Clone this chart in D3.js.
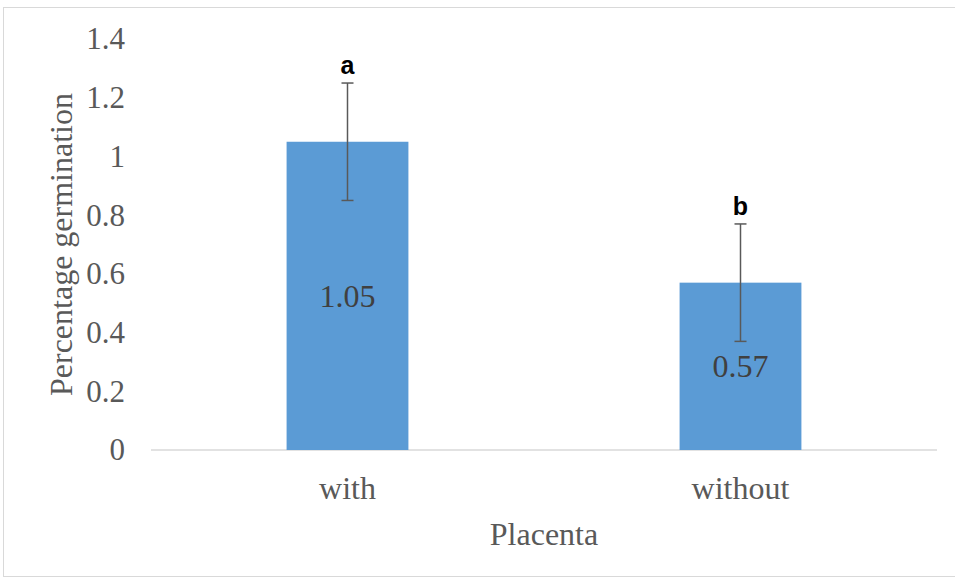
<!DOCTYPE html>
<html><head><meta charset="utf-8">
<script src="https://cdn.jsdelivr.net/npm/d3@7"></script>
<style>body{margin:0;background:#fff;}</style>
</head><body>
<svg id="c" width="955" height="579"></svg>
<script>
const categories = ["with", "without"];
const values = [1.05, 0.57];
const errors = [0.2, 0.2];
const letters = ["a", "b"];
const yTicks = [0, 0.2, 0.4, 0.6, 0.8, 1, 1.2, 1.4];

(function () {
const svg = d3.select("#c");
svg.append("rect").attr("x", 3.5).attr("y", 7.5).attr("width", 960).attr("height", 569)
  .attr("fill", "#fff").attr("stroke", "#d9d9d9").attr("stroke-width", 1);

const mLeft = 151, mRight = 937, mTop = 39, mBottom = 450;
const x = d3.scaleBand().domain(categories).range([mLeft, mRight]).paddingInner(0.69).paddingOuter(0.345);
const y = d3.scaleLinear().domain([0, 1.4]).range([mBottom, mTop]);
const serif = "'Liberation Serif', 'Times New Roman', serif";

// y tick labels
const yAxis = d3.axisLeft(y).tickValues(yTicks).tickFormat(d => String(d)).tickSize(0).tickPadding(0);
const ya = svg.append("g").attr("transform", `translate(125,0)`).call(yAxis);
ya.select(".domain").remove();
ya.selectAll("text").attr("font-family", serif).attr("font-size", 31).attr("fill", "#595959").attr("dy", "0.32em");

// x axis line
svg.append("line").attr("x1", mLeft).attr("x2", mRight).attr("y1", y(0)).attr("y2", y(0))
  .attr("stroke", "#d9d9d9").attr("stroke-width", 1.5);

// bars
svg.selectAll("rect.bar").data(categories).join("rect").attr("class", "bar")
  .attr("x", d => x(d)).attr("width", x.bandwidth())
  .attr("y", (d, i) => y(values[i])).attr("height", (d, i) => y(0) - y(values[i]))
  .attr("fill", "#5b9bd5");

// value labels
svg.selectAll("text.val").data(categories).join("text").attr("class", "val")
  .attr("x", d => x(d) + x.bandwidth() / 2)
  .attr("y", (d, i) => (y(values[i]) + y(0)) / 2 + 11)
  .attr("text-anchor", "middle").attr("font-family", serif).attr("font-size", 32).attr("fill", "#404040")
  .text((d, i) => values[i].toFixed(2));

// error bars
const eb = svg.selectAll("g.err").data(categories).join("g").attr("class", "err")
  .attr("stroke", "#595959").attr("stroke-width", 1.5);
eb.append("line").attr("x1", d => x(d) + x.bandwidth() / 2).attr("x2", d => x(d) + x.bandwidth() / 2)
  .attr("y1", (d, i) => y(values[i] + errors[i])).attr("y2", (d, i) => y(values[i] - errors[i]));
eb.append("line").attr("x1", d => x(d) + x.bandwidth() / 2 - 6).attr("x2", d => x(d) + x.bandwidth() / 2 + 6)
  .attr("y1", (d, i) => y(values[i] + errors[i])).attr("y2", (d, i) => y(values[i] + errors[i]));
eb.append("line").attr("x1", d => x(d) + x.bandwidth() / 2 - 6).attr("x2", d => x(d) + x.bandwidth() / 2 + 6)
  .attr("y1", (d, i) => y(values[i] - errors[i])).attr("y2", (d, i) => y(values[i] - errors[i]));

// letters
svg.selectAll("text.let").data(categories).join("text").attr("class", "let")
  .attr("x", d => x(d) + x.bandwidth() / 2)
  .attr("y", (d, i) => y(values[i] + errors[i]) - 9)
  .attr("text-anchor", "middle").attr("font-family", "'Liberation Sans', Arial, sans-serif")
  .attr("font-weight", "bold").attr("font-size", 25).attr("fill", "#000")
  .text((d, i) => letters[i]);

// x category labels
const xAxis = d3.axisBottom(x).tickSize(0).tickPadding(0);
const xa = svg.append("g").attr("transform", `translate(0,${mBottom})`).call(xAxis);
xa.select(".domain").remove();
xa.selectAll("text").attr("font-family", serif).attr("font-size", 32).attr("fill", "#595959")
  .attr("y", 49).attr("dy", 0);

// axis titles
svg.append("text").attr("x", (mLeft + mRight) / 2).attr("y", 545).attr("text-anchor", "middle")
  .attr("font-family", serif).attr("font-size", 32).attr("fill", "#595959").text("Placenta");
svg.append("text").attr("transform", `translate(72,${(mTop + mBottom) / 2}) rotate(-90)`).attr("text-anchor", "middle")
  .attr("font-family", serif).attr("font-size", 32).attr("fill", "#595959").text("Percentage germination");
})();
</script>
</body></html>
